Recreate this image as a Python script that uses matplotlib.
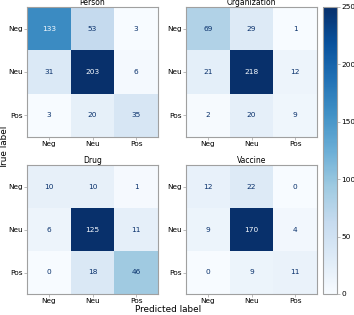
import numpy as np
import matplotlib
matplotlib.use("Agg")
import matplotlib.pyplot as plt
from matplotlib.colors import Normalize
from matplotlib.cm import ScalarMappable

labels = ["Neg", "Neu", "Pos"]
titles = ["Person", "Organization", "Drug", "Vaccine"]
person = [[133, 53, 3], [31, 203, 6], [3, 20, 35]]
organization = [[69, 29, 1], [21, 218, 12], [2, 20, 9]]
drug = [[10, 10, 1], [6, 125, 11], [0, 18, 46]]
vaccine = [[12, 22, 0], [9, 170, 4], [0, 9, 11]]
matrices = [person, organization, drug, vaccine]
cbar_max = 250

W, H = 354, 315
fig = plt.figure(figsize=(W / 100, H / 100), dpi=100)

def box(x0, y0, x1, y1):
    return [x0 / W, 1 - y1 / H, (x1 - x0) / W, (y1 - y0) / H]

boxes = [box(27, 7, 158, 137), box(186, 7, 317, 137),
         box(27, 165, 158, 294), box(186, 165, 317, 294)]

cmap = plt.get_cmap("Blues")
spine_c = "#a0a0a0"
for m, t, b in zip(matrices, titles, boxes):
    ax = fig.add_axes(b)
    arr = np.array(m)
    ax.imshow(arr, cmap=cmap, vmin=arr.min(), vmax=arr.max(), aspect="auto")
    thresh = (arr.max() + arr.min()) / 2
    for i in range(3):
        for j in range(3):
            c = cmap(0.0) if arr[i, j] > thresh else cmap(1.0)
            ax.text(j, i, str(arr[i, j]), ha="center", va="center",
                    color=c, fontsize=5.3)
    ax.set_xticks(range(3))
    ax.set_yticks(range(3))
    ax.set_xticklabels(labels, fontsize=5.3)
    ax.set_yticklabels(labels, fontsize=5.3)
    ax.tick_params(length=2, width=0.5, pad=1, color=spine_c)
    ax.set_title(t, fontsize=5.5, pad=0.6)
    for s in ax.spines.values():
        s.set_color(spine_c)
        s.set_linewidth(0.8)

cax = fig.add_axes(box(323, 7, 337, 294))
sm = ScalarMappable(norm=Normalize(0, cbar_max), cmap=cmap)
cb = fig.colorbar(sm, cax=cax)
cb.set_ticks([0, 50, 100, 150, 200, 250])
cb.ax.tick_params(labelsize=5.3, length=2, width=0.5, pad=1, color=spine_c)
cb.outline.set_edgecolor(spine_c)
cb.outline.set_linewidth(0.8)

fig.text(4.5 / W, 1 - 147 / H, "True label", rotation=90, ha="center",
         va="center", fontsize=6.4)
fig.text(168 / W, 1 - 310 / H, "Predicted label", ha="center",
         va="center", fontsize=6.4)

fig.savefig("out.png", dpi=100)
